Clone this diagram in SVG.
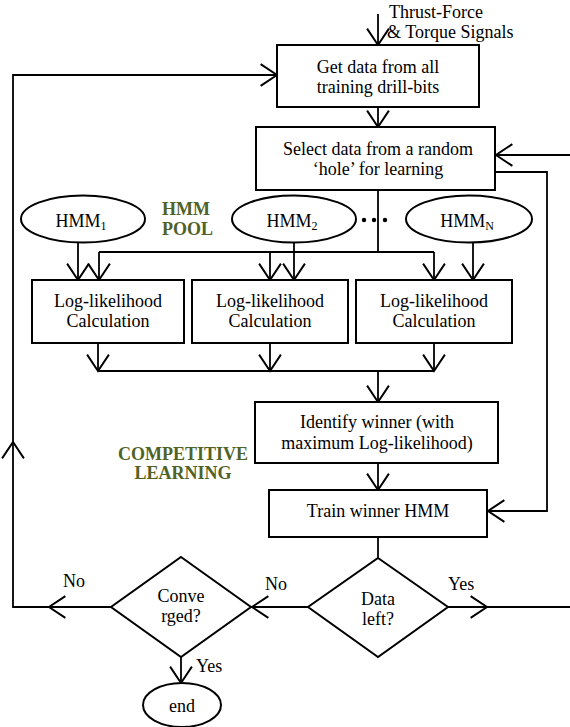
<svg xmlns="http://www.w3.org/2000/svg" width="570" height="727" viewBox="0 0 570 727">
<style>
  .box { fill: #fff; stroke: #000; stroke-width: 2; }
  .t { font-family: "Liberation Serif", "Times New Roman", serif; font-size: 18px; fill: #000; }
  .c { text-anchor: middle; }
  .g { font-family: "Liberation Serif", "Times New Roman", serif; font-size: 18px; font-weight: bold; fill: #4F6228; }
  .sub { font-size: 12px; }
  .ln { fill: none; stroke: #000; stroke-width: 1.8; }
  .arr { fill: none; stroke: #000; stroke-width: 1.8; marker-end: url(#ah); }
</style>
<defs>
  <marker id="ah" markerUnits="userSpaceOnUse" orient="auto" refX="0" refY="0" markerWidth="20" markerHeight="24" viewBox="-16 -11 17 22" overflow="visible">
    <path d="M-15,-10 L0,0 L-15,10" fill="none" stroke="#000" stroke-width="1.8"/>
  </marker>
</defs>

<g id="connectors">
  <line class="arr" x1="378" y1="14" x2="378" y2="45"/>
  <line class="arr" x1="378" y1="107" x2="378" y2="127"/>
  <!-- left loop -->
  <line class="arr" x1="111" y1="607" x2="49" y2="607"/>
  <polyline class="arr" points="49,607 13,607 13,442"/>
  <polyline class="arr" points="13,442 13,75 277,75"/>
  <!-- right loop -->
  <line class="arr" x1="570" y1="155" x2="496" y2="155"/>
  <polyline class="arr" points="495,172 547,172 547,511 488,511"/>
  <!-- box2 to log boxes -->
  <line class="ln" x1="378" y1="190" x2="378" y2="252"/>
  <line class="ln" x1="99" y1="252" x2="434" y2="252"/>
  <line class="arr" x1="99" y1="252" x2="99" y2="280"/>
  <line class="arr" x1="270" y1="252" x2="270" y2="280"/>
  <line class="arr" x1="434" y1="252" x2="434" y2="280"/>
  <!-- HMM arrows -->
  <line class="arr" x1="78" y1="242" x2="78" y2="280"/>
  <line class="arr" x1="294" y1="242" x2="294" y2="280"/>
  <line class="arr" x1="473" y1="242" x2="473" y2="280"/>
  <!-- log boxes down -->
  <line class="arr" x1="98" y1="343" x2="98" y2="371"/>
  <line class="arr" x1="270" y1="343" x2="270" y2="371"/>
  <line class="arr" x1="434" y1="343" x2="434" y2="371"/>
  <line class="ln" x1="98" y1="371" x2="434" y2="371"/>
  <line class="arr" x1="378" y1="371" x2="378" y2="402"/>
  <line class="arr" x1="378" y1="463" x2="378" y2="490"/>
  <line class="ln" x1="378" y1="537" x2="378" y2="558"/>
  <!-- decisions -->
  <line class="arr" x1="308" y1="607" x2="252" y2="607"/>
  <line class="arr" x1="448" y1="607" x2="487" y2="607"/>
  <line class="ln" x1="487" y1="607" x2="570" y2="607"/>
  <line class="arr" x1="181" y1="657" x2="181" y2="683"/>
  <!-- dots -->
  <circle cx="364" cy="220" r="2.2" fill="#000"/>
  <circle cx="374" cy="220" r="2.2" fill="#000"/>
  <circle cx="385" cy="220" r="2.2" fill="#000"/>
  <!-- labels -->
  <text class="t" x="389" y="18">Thrust-Force</text>
  <text class="t" x="387" y="38">&amp; Torque Signals</text>
  <text class="t" x="265" y="590">No</text>
  <text class="t" x="448" y="590">Yes</text>
  <text class="t" x="63" y="587">No</text>
  <text class="t" x="196" y="672">Yes</text>
</g>

<g id="get-data">
  <rect class="box" x="277" y="45" width="202" height="62"/>
  <text class="t c" x="378" y="73">Get data from all</text>
  <text class="t c" x="378" y="93">training drill-bits</text>
</g>

<g id="select-data">
  <rect class="box" x="256" y="127" width="239" height="63"/>
  <text class="t c" x="378" y="155">Select data from a random</text>
  <text class="t c" x="378" y="175">‘hole’ for learning</text>
</g>

<g id="hmm1">
  <ellipse class="box" cx="83" cy="219" rx="62" ry="23.5"/>
  <text class="t c" x="81" y="227">HMM<tspan class="sub" dy="3">1</tspan></text>
</g>
<g id="hmm2">
  <ellipse class="box" cx="294" cy="219" rx="62" ry="23.5"/>
  <text class="t c" x="292" y="227">HMM<tspan class="sub" dy="3">2</tspan></text>
</g>
<g id="hmmN">
  <ellipse class="box" cx="469" cy="219" rx="63" ry="23.5"/>
  <text class="t c" x="467" y="227">HMM<tspan class="sub" dy="3">N</tspan></text>
</g>

<g id="hmm-pool-label">
  <text class="g" x="162" y="215">HMM</text>
  <text class="g" x="162" y="235">POOL</text>
</g>

<g id="loglik1">
  <rect class="box" x="32" y="280" width="152" height="63"/>
  <text class="t c" x="108" y="307">Log-likelihood</text>
  <text class="t c" x="108" y="327">Calculation</text>
</g>
<g id="loglik2">
  <rect class="box" x="192" y="280" width="156" height="63"/>
  <text class="t c" x="270" y="307">Log-likelihood</text>
  <text class="t c" x="270" y="327">Calculation</text>
</g>
<g id="loglik3">
  <rect class="box" x="356" y="280" width="156" height="63"/>
  <text class="t c" x="434" y="307">Log-likelihood</text>
  <text class="t c" x="434" y="327">Calculation</text>
</g>

<g id="identify">
  <rect class="box" x="255" y="402" width="243" height="61"/>
  <text class="t c" x="377" y="428">Identify winner (with</text>
  <text class="t c" x="377" y="449">maximum Log-likelihood)</text>
</g>

<g id="competitive-label">
  <text class="g c" x="183" y="460">COMPETITIVE</text>
  <text class="g c" x="183" y="479">LEARNING</text>
</g>

<g id="train">
  <rect class="box" x="269" y="490" width="218" height="47"/>
  <text class="t c" x="378" y="517">Train winner HMM</text>
</g>

<g id="data-left">
  <polygon class="box" points="378,558 448,607 378,657 308,607"/>
  <text class="t c" x="378" y="605">Data</text>
  <text class="t c" x="378" y="625">left?</text>
</g>

<g id="converged">
  <polygon class="box" points="181,557 251,607 181,657 111,607"/>
  <text class="t c" x="181" y="602">Conve</text>
  <text class="t c" x="181" y="622">rged?</text>
</g>

<g id="end">
  <ellipse class="box" cx="182" cy="705" rx="39" ry="22"/>
  <text class="t c" x="182" y="712">end</text>
</g>
</svg>
